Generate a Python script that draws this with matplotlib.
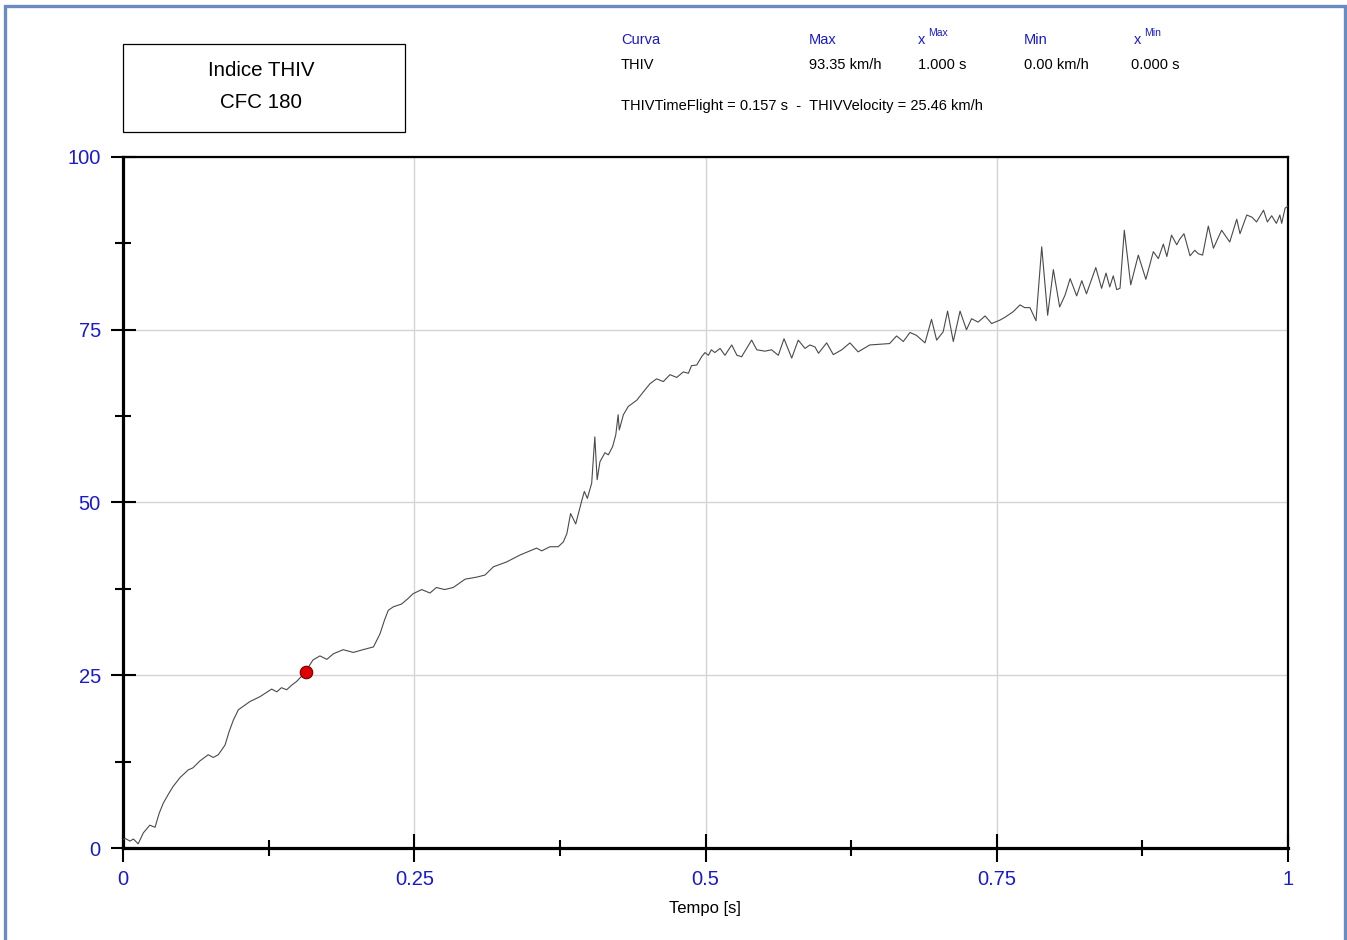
import matplotlib
matplotlib.use("Agg")
import matplotlib.pyplot as plt
from matplotlib.patches import Rectangle
from matplotlib.ticker import FixedLocator

plt.rcParams['font.family'] = ['Liberation Sans', 'DejaVu Sans']

# ---------------- data ----------------
time_s = [
    0.000, 0.0017, 0.006, 0.009, 0.013, 0.0175, 0.023, 0.0275, 0.031, 0.0346,
    0.039, 0.043, 0.049, 0.056, 0.060, 0.066, 0.0732, 0.0775, 0.0818, 0.0876,
    0.091, 0.0947, 0.099, 0.104, 0.109, 0.1176, 0.1276, 0.132, 0.136, 0.1405,
    0.145, 0.149, 0.153, 0.157, 0.160, 0.163, 0.169, 0.175, 0.1805, 0.189,
    0.1977, 0.206, 0.215, 0.2206, 0.2245, 0.2277, 0.232, 0.239, 0.244, 0.249,
    0.2564, 0.2635, 0.269, 0.276, 0.2835, 0.2936, 0.3036, 0.3107, 0.318, 0.3293,
    0.3408, 0.3494, 0.355, 0.3594, 0.3665, 0.3736, 0.378, 0.381, 0.3842, 0.3886,
    0.394, 0.396, 0.3986, 0.4023, 0.405, 0.407, 0.4094, 0.4137, 0.4166, 0.4203,
    0.423, 0.425, 0.426, 0.4295, 0.4337, 0.441, 0.4466, 0.4524, 0.458, 0.4638,
    0.4695, 0.4753, 0.481, 0.4853, 0.488, 0.4925, 0.4967, 0.4996, 0.5025, 0.505,
    0.508, 0.5125, 0.5167, 0.5225, 0.527, 0.531, 0.5396, 0.544, 0.551, 0.5567,
    0.5625, 0.5674, 0.574, 0.5796, 0.5854, 0.5897, 0.594, 0.597, 0.604, 0.6097,
    0.617, 0.624, 0.631, 0.641, 0.6498, 0.658, 0.664, 0.6698, 0.6755, 0.681,
    0.6884, 0.694, 0.6984, 0.704, 0.7078, 0.7127, 0.7185, 0.724, 0.7284, 0.734,
    0.740, 0.7456, 0.7528, 0.757, 0.764, 0.770, 0.774, 0.7785, 0.7837, 0.7886,
    0.7937, 0.7986, 0.804, 0.8086, 0.813, 0.8186, 0.823, 0.827, 0.835, 0.840,
    0.8438, 0.847, 0.850, 0.853, 0.8558, 0.8595, 0.865, 0.8715, 0.878, 0.8844,
    0.8887, 0.893, 0.896, 0.900, 0.9045, 0.907, 0.9107, 0.9159, 0.920, 0.923,
    0.9267, 0.9316, 0.936, 0.943, 0.950, 0.956, 0.9588, 0.9646, 0.969, 0.973,
    0.979, 0.9823, 0.986, 0.990, 0.993, 0.9946, 0.9975, 1.000,
]
thiv_kmh = [
    1.2, 1.4, 1.0, 1.3, 0.6, 2.2, 3.3, 3.0, 5.0, 6.5,
    7.8, 8.9, 10.2, 11.3, 11.6, 12.6, 13.5, 13.1, 13.5, 14.9,
    16.8, 18.5, 20.0, 20.6, 21.2, 21.9, 23.0, 22.6, 23.2, 22.9,
    23.6, 24.1, 24.8, 25.46, 26.4, 27.2, 27.8, 27.3, 28.1, 28.7,
    28.3, 28.7, 29.1, 31.0, 33.0, 34.4, 34.9, 35.3, 36.0, 36.8,
    37.4, 36.9, 37.7, 37.4, 37.7, 38.9, 39.2, 39.5, 40.7, 41.4,
    42.4, 43.0, 43.4, 43.0, 43.6, 43.6, 44.3, 45.5, 48.4, 46.9,
    50.4, 51.6, 50.6, 52.8, 59.5, 53.3, 55.9, 57.2, 56.9, 58.1,
    59.8, 62.7, 60.5, 62.7, 63.9, 64.8, 66.0, 67.2, 67.9, 67.5,
    68.5, 68.1, 68.9, 68.7, 69.8, 69.9, 71.1, 71.7, 71.3, 72.1,
    71.7, 72.3, 71.3, 72.8, 71.3, 71.1, 73.5, 72.1, 71.9, 72.1,
    71.3, 73.7, 70.9, 73.5, 72.3, 72.8, 72.5, 71.6, 73.1, 71.4,
    72.1, 73.1, 71.8, 72.8, 72.9, 73.0, 74.1, 73.3, 74.6, 74.2,
    73.1, 76.5, 73.5, 74.7, 77.7, 73.3, 77.7, 75.0, 76.6, 76.1,
    77.0, 75.9, 76.4, 76.8, 77.6, 78.6, 78.2, 78.2, 76.3, 87.0,
    77.1, 83.7, 78.3, 80.0, 82.4, 79.9, 82.1, 80.2, 84.0, 81.0,
    83.2, 81.2, 82.8, 80.8, 81.0, 89.4, 81.5, 85.8, 82.3, 86.3,
    85.3, 87.4, 85.6, 88.7, 87.3, 88.1, 88.9, 85.7, 86.5, 86.0,
    85.8, 90.0, 86.8, 89.4, 87.7, 91.0, 88.9, 91.6, 91.3, 90.6,
    92.3, 90.6, 91.5, 90.4, 91.6, 90.4, 92.6, 92.9,
]
marker_t = [0.157]
marker_v = [25.46]

x_tick_labels = ["0", "0.25", "0.5", "0.75", "1"]
y_tick_labels = ["0", "25", "50", "75", "100"]

# ---------------- figure ----------------
W, H = 1347, 940
fig = plt.figure(figsize=(W / 100, H / 100), dpi=100)
fig.patch.set_facecolor("white")

def fx(px):
    return px / W

def fy(py):
    return 1 - py / H

ax = fig.add_axes([fx(123), fy(848), fx(1288) - fx(123), fy(157) - fy(848)])
ax.set_xlim(0, 1)
ax.set_ylim(0, 100)

blue = "#1a1acc"
ax.plot(time_s, thiv_kmh, color="#4a4a4a", lw=0.8, zorder=3)
ax.plot(marker_t, marker_v, "o", color="#e00000", mec="#700000", mew=0.8,
        ms=9, zorder=4)

ax.xaxis.set_major_locator(FixedLocator([0, 0.25, 0.5, 0.75, 1.0]))
ax.xaxis.set_minor_locator(FixedLocator([0.125, 0.375, 0.625, 0.875]))
ax.yaxis.set_major_locator(FixedLocator([0, 25, 50, 75, 100]))
ax.yaxis.set_minor_locator(FixedLocator([12.5, 37.5, 62.5, 87.5]))
ax.set_xticklabels(x_tick_labels)
ax.set_yticklabels(y_tick_labels)

ax.grid(True, which="major", color="#d4d4d4", lw=1.0, zorder=0)
ax.set_axisbelow(True)

ax.tick_params(axis="x", which="major", direction="inout", length=20, width=1.5,
               colors="black", labelcolor=blue, labelsize=14.5, pad=6)
ax.tick_params(axis="x", which="minor", direction="inout", length=11, width=1.5,
               colors="black")
ax.tick_params(axis="y", which="major", direction="inout", length=18, width=1.5,
               colors="black", labelcolor=blue, labelsize=14.5, pad=7)
ax.tick_params(axis="y", which="minor", direction="inout", length=11, width=1.5,
               colors="black")

for side in ["left", "bottom"]:
    ax.spines[side].set_linewidth(2.3)
for side in ["top", "right"]:
    ax.spines[side].set_linewidth(1.6)

fig.text(fx(705), fy(909), "Tempo [s]", ha="center", va="center",
         fontsize=12, color="black")

# title box
fig.patches.append(Rectangle((fx(123), fy(132)), fx(405) - fx(123), fy(44) - fy(132),
                             transform=fig.transFigure, fill=False,
                             edgecolor="black", lw=0.9))
fig.text(fx(261), fy(71), "Indice THIV", ha="center", va="center", fontsize=14.8)
fig.text(fx(261), fy(103), "CFC 180", ha="center", va="center", fontsize=14.8)

# header table
hs = 10.5
fig.text(fx(621), fy(40), "Curva", color=blue, fontsize=hs, va="center")
fig.text(fx(809), fy(40), "Max", color=blue, fontsize=hs, va="center")
fig.text(fx(918), fy(40), "x", color=blue, fontsize=hs, va="center")
fig.text(fx(928), fy(33), "Max", color=blue, fontsize=7.5, va="center")
fig.text(fx(1024), fy(40), "Min", color=blue, fontsize=hs, va="center")
fig.text(fx(1134), fy(40), "x", color=blue, fontsize=hs, va="center")
fig.text(fx(1144), fy(33), "Min", color=blue, fontsize=7.5, va="center")

fig.text(fx(621), fy(65), "THIV", color="black", fontsize=hs, va="center")
fig.text(fx(809), fy(65), "93.35 km/h", color="black", fontsize=hs, va="center")
fig.text(fx(918), fy(65), "1.000 s", color="black", fontsize=hs, va="center")
fig.text(fx(1024), fy(65), "0.00 km/h", color="black", fontsize=hs, va="center")
fig.text(fx(1131), fy(65), "0.000 s", color="black", fontsize=hs, va="center")

fig.text(fx(621), fy(106), "THIVTimeFlight = 0.157 s  -  THIVVelocity = 25.46 km/h",
         color="black", fontsize=hs, va="center")

# outer frame
fig.patches.append(Rectangle((fx(4.5), fy(960)), fx(1344.5) - fx(4.5), fy(5.5) - fy(960),
                             transform=fig.transFigure, fill=False,
                             edgecolor="#6b8cc2", lw=2.4))

fig.savefig("out.png", dpi=100, facecolor="white")
